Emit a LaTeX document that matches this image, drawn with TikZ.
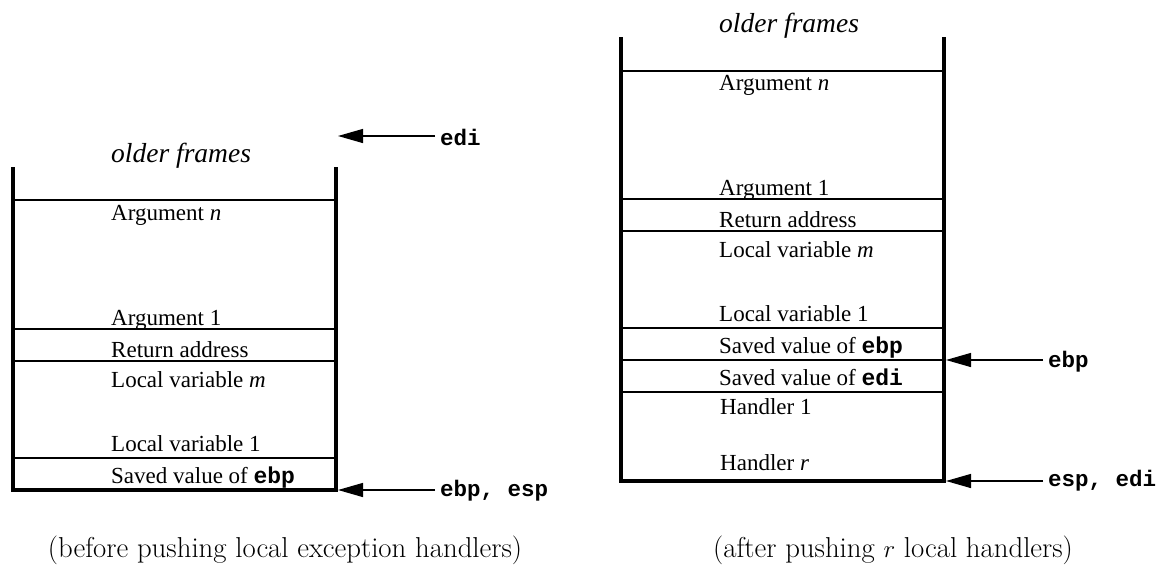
\documentclass[tikz,border=0pt]{standalone}
\usepackage{fontspec}
\newfontfamily\tms{Liberation Serif}
\newfontfamily\cour{Liberation Mono}
\usetikzlibrary{arrows.meta}
\begin{document}
\begin{tikzpicture}[x=1pt,y=-1pt,
 cell/.style={anchor=base west, inner sep=0pt, font={\tms\fontsize{23}{27}\selectfont}},
 older/.style={anchor=base west, inner sep=0pt, font={\tms\itshape\fontsize{27.5}{31}\selectfont}},
 reg/.style={anchor=base west, inner ysep=0pt, inner xsep=5pt, font={\cour\bfseries\fontsize{22.5}{26}\selectfont}},
 captext/.style={anchor=base, inner sep=0pt, font={\fontsize{28.8}{32}\selectfont}},
 wall/.style={line width=3.3pt, line join=miter},
 sep/.style={line width=1.3pt},
 ptr/.style={line width=1.3pt, -{Triangle[length=25pt,width=14pt]}},
]
\useasboundingbox (0,0) rectangle (1163,576);

% ---------- left stack ----------
\draw[wall] (13,167) -- (13,490) -- (336,490) -- (336,167);
\draw[sep] (13,200) -- (336,200);
\draw[sep] (13,329) -- (336,329);
\draw[sep] (13,361) -- (336,361);
\draw[sep] (13,458) -- (336,458);

\node[older] (lof) at (111,162) {older frames};
\node[cell] (lan) at (111,220) {Argument {\itshape n}};
\node[cell] (la1) at (111,325) {Argument 1};
\node[cell] (lra) at (111,357) {Return address};
\node[cell] (llm) at (111,387) {Local variable {\itshape m}};
\node[cell] (ll1) at (111,451) {Local variable 1};
\node[cell] (lsb) at (111,483) {Saved value of {\cour\bfseries ebp}};

\coordinate (editip) at (338,136);
\coordinate (lbottip) at (338,490);
\node[reg] (edi) at (435,145) {edi};
\node[reg] (ebpesp) at (435,496) {ebp, esp};
\draw[ptr] (edi.west |- editip) -- (editip);
\draw[ptr] (ebpesp.west |- lbottip) -- (lbottip);

\node[captext] (cap1) at (285,557) {(before pushing local exception handlers)};

% ---------- right stack ----------
\draw[wall] (621,37) -- (621,481) -- (944,481) -- (944,37);
\draw[sep] (621,71) -- (944,71);
\draw[sep] (621,199) -- (944,199);
\draw[sep] (621,231) -- (944,231);
\draw[sep] (621,328) -- (944,328);
\draw[sep] (621,360) -- (944,360);
\draw[sep] (621,392) -- (944,392);

\node[older] (rof) at (719,32) {older frames};
\node[cell] (ran) at (719,90) {Argument {\itshape n}};
\node[cell] (ra1) at (719,195) {Argument 1};
\node[cell] (rra) at (719,227) {Return address};
\node[cell] (rlm) at (719,257) {Local variable {\itshape m}};
\node[cell] (rl1) at (719,321) {Local variable 1};
\node[cell] (rsb) at (719,353) {Saved value of {\cour\bfseries ebp}};
\node[cell] (rse) at (719,385) {Saved value of {\cour\bfseries edi}};
\node[cell] (rh1) at (720,414) {Handler 1};
\node[cell] (rhr) at (720,470) {Handler {\itshape r}};

\coordinate (ebptip) at (946,360);
\coordinate (rbottip) at (946,481);
\node[reg] (ebp) at (1043,367) {ebp};
\node[reg] (espedi) at (1043,486) {esp, edi};
\draw[ptr] (ebp.west |- ebptip) -- (ebptip);
\draw[ptr] (espedi.west |- rbottip) -- (rbottip);

\node[captext] (cap2) at (893,557) {(after pushing $r$ local handlers)};
\end{tikzpicture}
\end{document}
